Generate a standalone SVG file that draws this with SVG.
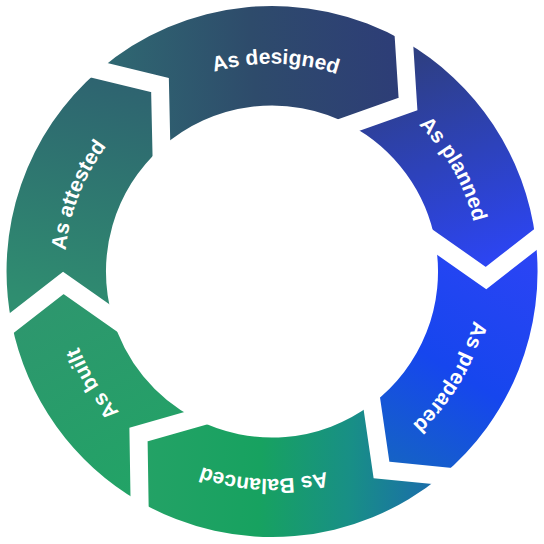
<svg xmlns="http://www.w3.org/2000/svg" width="544" height="544" viewBox="0 0 544 544">
<style>
.lbl{font-family:"Liberation Sans",Arial,sans-serif;font-weight:bold;font-size:21px;fill:#ffffff}
.gap{fill:none;stroke:#ffffff;stroke-width:18;stroke-linejoin:miter}
</style>
<defs>
<linearGradient id="gDesigned" gradientUnits="userSpaceOnUse" x1="100" y1="90" x2="410" y2="70">
<stop offset="0" stop-color="#2f6a72"/><stop offset="0.5" stop-color="#2e4b6b"/><stop offset="1" stop-color="#2d3c78"/>
</linearGradient>
<linearGradient id="gPlanned" gradientUnits="userSpaceOnUse" x1="400" y1="60" x2="480" y2="270">
<stop offset="0" stop-color="#2e3f82"/><stop offset="1" stop-color="#2c45f4"/>
</linearGradient>
<linearGradient id="gPrepared" gradientUnits="userSpaceOnUse" x1="520" y1="250" x2="390" y2="465">
<stop offset="0" stop-color="#2b44f4"/><stop offset="0.55" stop-color="#1646ee"/><stop offset="1" stop-color="#1563c4"/>
</linearGradient>
<linearGradient id="gBalanced" gradientUnits="userSpaceOnUse" x1="440" y1="480" x2="140" y2="470">
<stop offset="0" stop-color="#1b6aae"/><stop offset="0.3" stop-color="#188f86"/><stop offset="0.6" stop-color="#17a260"/><stop offset="1" stop-color="#24a266"/>
</linearGradient>
<linearGradient id="gBuilt" gradientUnits="userSpaceOnUse" x1="140" y1="490" x2="40" y2="300">
<stop offset="0" stop-color="#22a366"/><stop offset="1" stop-color="#2e966e"/>
</linearGradient>
<linearGradient id="gAttested" gradientUnits="userSpaceOnUse" x1="60" y1="310" x2="120" y2="75">
<stop offset="0" stop-color="#2f8e70"/><stop offset="1" stop-color="#2e6270"/>
</linearGradient>
<path id="tpDesigned" d="M94.1,164.1 A207.5,207.5 0 0 1 453.5,170.9"/>
<path id="tpPlanned" d="M274.2,64.0 A207.5,207.5 0 0 1 450.6,377.1"/>
<path id="tpPrepared" d="M452.8,169.6 A207.5,207.5 0 0 1 269.8,479.0"/>
<path id="tpBalanced" d="M447.4,382.4 A207.5,207.5 0 0 1 88.3,368.0"/>
<path id="tpBuilt" d="M279.2,478.9 A207.5,207.5 0 0 1 88.8,174.1"/>
<path id="tpAttested" d="M109.6,400.7 A207.5,207.5 0 0 1 241.3,66.3"/>
</defs>

<g id="node-designed">
<path fill="url(#gDesigned)" d="M98.9,70.2 A265.5,265.5 0 0 1 404.0,41.1 L408,104 L349.4,124.7 A166,166 0 0 0 161.4,147.7 L160,85 Z"/>
<text class="lbl" text-anchor="middle"><textPath href="#tpDesigned" startOffset="50%">As designed</textPath></text>
</g>
<g id="node-planned">
<path fill="url(#gPlanned)" d="M404.0,41.1 A265.5,265.5 0 0 1 535.6,239.4 L486,278 L435.5,242.7 A166,166 0 0 0 349.4,124.7 L408,104 Z"/>
<text class="lbl" text-anchor="middle"><textPath href="#tpPlanned" startOffset="50%">As planned</textPath></text>
</g>
<g id="node-prepared">
<path fill="url(#gPrepared)" d="M535.6,239.4 A265.5,265.5 0 0 1 441.5,475.9 L381.5,470 L371.9,404.1 A166,166 0 0 0 435.5,242.7 L486,278 Z"/>
<text class="lbl" text-anchor="middle"><textPath href="#tpPrepared" startOffset="50%">As prepared</textPath></text>
</g>
<g id="node-balanced">
<path fill="url(#gBalanced)" d="M441.5,475.9 A265.5,265.5 0 0 1 139.6,501.7 L138.5,434.5 L194.8,418.5 A166,166 0 0 0 371.9,404.1 L381.5,470 Z"/>
<text class="lbl" text-anchor="middle"><textPath href="#tpBalanced" startOffset="50%">As Balanced</textPath></text>
</g>
<g id="node-built">
<path fill="url(#gBuilt)" d="M139.6,501.7 A265.5,265.5 0 0 1 11.6,323.1 L63.3,282.85 L112.4,317.3 A166,166 0 0 0 194.8,418.5 L138.5,434.5 Z"/>
<text class="lbl" text-anchor="middle"><textPath href="#tpBuilt" startOffset="50%">As built</textPath></text>
</g>
<g id="node-attested">
<path fill="url(#gAttested)" d="M11.6,323.1 A265.5,265.5 0 0 1 98.9,70.2 L160,85 L161.4,147.7 A166,166 0 0 0 112.4,317.3 L63.3,282.85 Z"/>
<text class="lbl" text-anchor="middle"><textPath href="#tpAttested" startOffset="50%">As attested</textPath></text>
</g>

<g id="connectors">
<polyline class="gap" points="79.5,65.5 160,85 161.8,167.7"/>
<polyline class="gap" points="402.7,21.1 408,104 330.5,131.4"/>
<polyline class="gap" points="551.4,227.1 486,278 419.1,231.2"/>
<polyline class="gap" points="461.4,477.9 381.5,470 369.0,384.3"/>
<polyline class="gap" points="139.9,521.7 138.5,434.5 214.0,413.0"/>
<polyline class="gap" points="-4.2,335.4 63.3,282.85 128.8,328.8"/>
</g>
</svg>
